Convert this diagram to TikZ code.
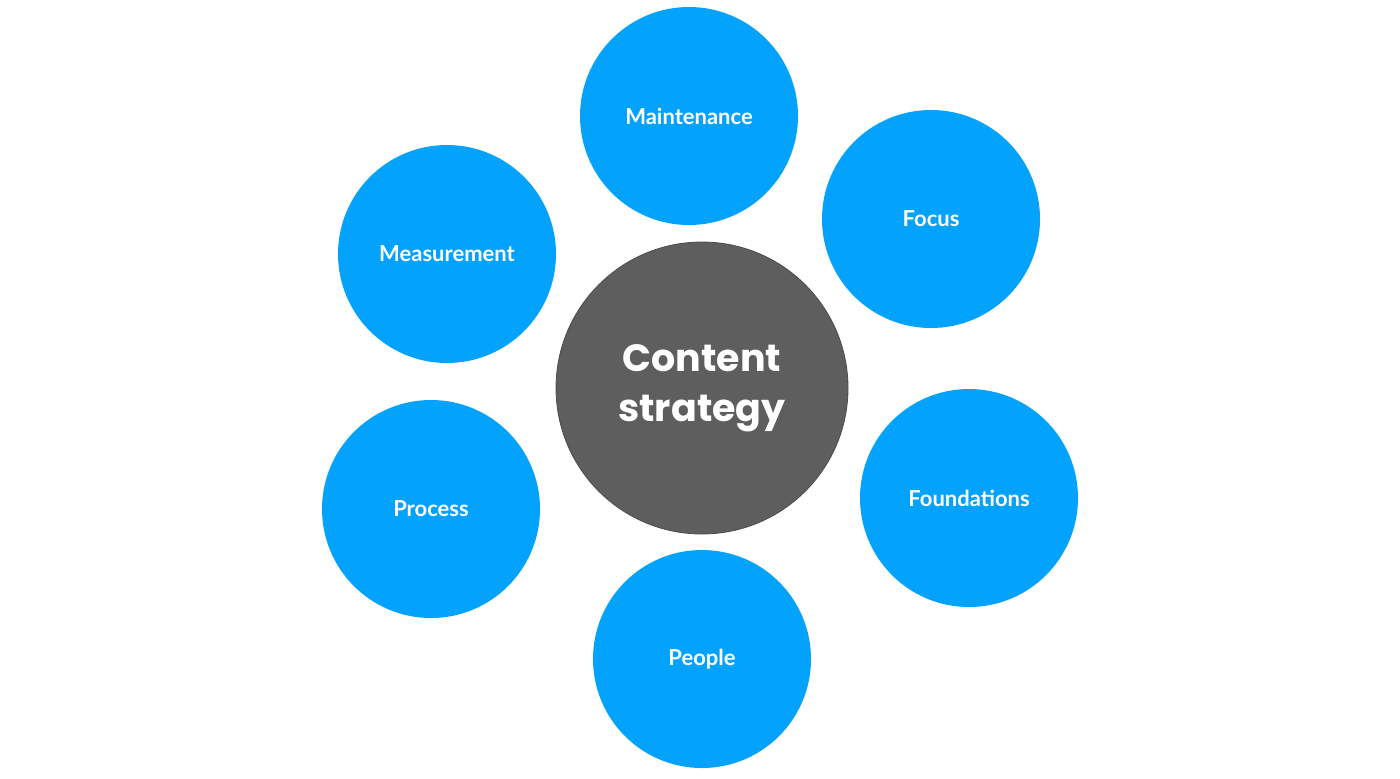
\documentclass[tikz,border=0pt]{standalone}
\usepackage{fontspec}
\setmainfont{Lato}
\newfontfamily\titlefont{Poppins}
\definecolor{skyblue}{HTML}{03A2FD}
\definecolor{coregray}{HTML}{5E5E5E}
\begin{document}
\begin{tikzpicture}[x=0.5pt,y=-0.5pt]
            \useasboundingbox (0,0) rectangle (1400,778);
            \begin{scope}[every node/.style={circle,fill=skyblue,text=white,minimum size=109pt,inner sep=0pt,font=\fontsize{11}{13}\selectfont\bfseries}]
                \node (maint) at (689,116) {Maintenance};
                \node (focus) at (931,219) {Focus};
                \node (meas) at (447,254) {Measurement};
                \node (proc) at (431,509) {Process};
                \node (found) at (969,498) {Foundations};
                \node (people) at (702,659) {People};
            \end{scope}

            \node (core) [circle,fill=coregray,draw=black!70,thin,text=white,minimum size=146pt,inner sep=0pt,align=center,
                font=\titlefont\fontsize{19}{25}\selectfont\bfseries] at (702,388) {Content\\strategy};
\end{tikzpicture}
\end{document}
